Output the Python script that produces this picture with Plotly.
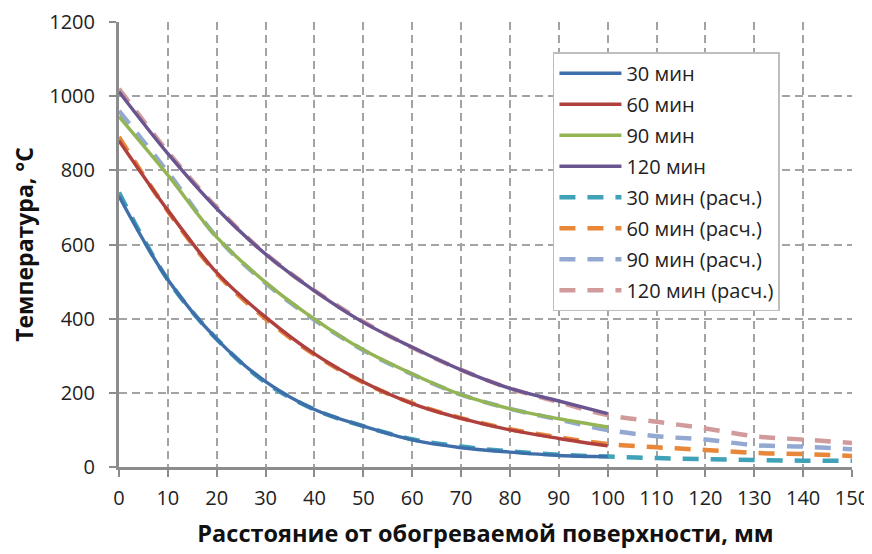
import plotly.graph_objects as go

x_meas = [0, 10, 20, 30, 40, 50, 60, 70, 80, 90, 100]
x_calc = [0, 10, 20, 30, 40, 50, 60, 70, 80, 90, 100, 110, 120, 130, 140, 150]

t30 = [730, 505, 345, 230, 155, 110, 73, 52, 40, 31, 28]
t60 = [880, 692, 524, 404, 305, 229, 171, 131, 100, 77, 57]
t90 = [945, 787, 620, 498, 399, 316, 251, 195, 157, 130, 108]
t120 = [1012, 845, 697, 574, 475, 390, 323, 262, 212, 178, 144]

c30 = [740, 505, 345, 228, 155, 110, 75, 55, 42, 33, 28, 24, 21, 19, 17, 17]
c60 = [890, 690, 522, 400, 303, 228, 172, 132, 102, 80, 62, 53, 46, 38, 35, 30]
c90 = [960, 795, 620, 496, 397, 315, 250, 195, 157, 128, 100, 83, 74, 59, 55, 48]
c120 = [1020, 850, 700, 575, 476, 392, 322, 262, 212, 175, 140, 122, 104, 83, 74, 65]

names_meas = ["30 мин", "60 мин", "90 мин", "120 мин"]
names_calc = ["30 мин (расч.)", "60 мин (расч.)", "90 мин (расч.)", "120 мин (расч.)"]
colors_meas = ["#3F6FAA", "#B0403D", "#93B553", "#6A5590"]
colors_calc = ["#3FA2B8", "#E8873A", "#93A9D2", "#D19A9B"]

fig = go.Figure()
# calculated first (drawn underneath), measured on top
for i, (y, nm, col) in enumerate(zip([c30, c60, c90, c120], names_calc, colors_calc)):
    fig.add_trace(go.Scatter(x=x_calc, y=y, name=nm, mode="lines",
                             line=dict(color=col, width=4.5, shape="spline", dash="16px,12px"),
                             legendgroup="c%d" % i, legendrank=10 + i))
for i, (y, nm, col) in enumerate(zip([t30, t60, t90, t120], names_meas, colors_meas)):
    fig.add_trace(go.Scatter(x=x_meas, y=y, name=nm, mode="lines",
                             line=dict(color=col, width=3.4, shape="spline"),
                             legendgroup="m%d" % i, legendrank=1 + i))

font_family = "'Open Sans', sans-serif"
fig.update_layout(
    width=872, height=554,
    # page body adds an 8px offset; margins compensate so the plot area
    # sits at x 119..852, y 22..467 in the window
    margin=dict(l=111, r=28, t=14, b=95, autoexpand=False),
    paper_bgcolor="white", plot_bgcolor="white",
    font=dict(family=font_family, size=20, color="#222222"),
    legend=dict(
        x=0.592, y=0.932, xanchor="left", yanchor="top",
        bgcolor="white", bordercolor="#BDBDBD", borderwidth=1.5,
        font=dict(size=20, color="#222222"),
        itemwidth=62, tracegroupgap=2, traceorder="grouped",
    ),
    showlegend=True,
)
fig.update_xaxes(
    range=[0, 150], dtick=10, tick0=0,
    showline=True, linecolor="#8C8C8C", linewidth=3,
    ticks="outside", ticklen=7, tickwidth=2, tickcolor="#8C8C8C",
    ticklabelstandoff=4, ticklabeloverflow="allow",
    showgrid=True, gridcolor="#A3A3A3", gridwidth=1.5, griddash="8px,5px",
    zeroline=False,
    title=dict(text="<b>Расстояние от обогреваемой поверхности, мм</b>", standoff=16,
               font=dict(size=23.5, color="#111111")),
)
fig.update_yaxes(
    range=[0, 1200], dtick=200, tick0=0,
    showline=True, linecolor="#8C8C8C", linewidth=3,
    ticks="outside", ticklen=7, tickwidth=2, tickcolor="#8C8C8C",
    ticklabelstandoff=10, ticklabeloverflow="allow",
    showgrid=True, gridcolor="#A3A3A3", gridwidth=1.5, griddash="8px,5px",
    zeroline=False,
    title=dict(text="<b>Температура, °С</b>", standoff=13,
               font=dict(size=23, color="#111111")),
)

fig.write_html("out.html")
